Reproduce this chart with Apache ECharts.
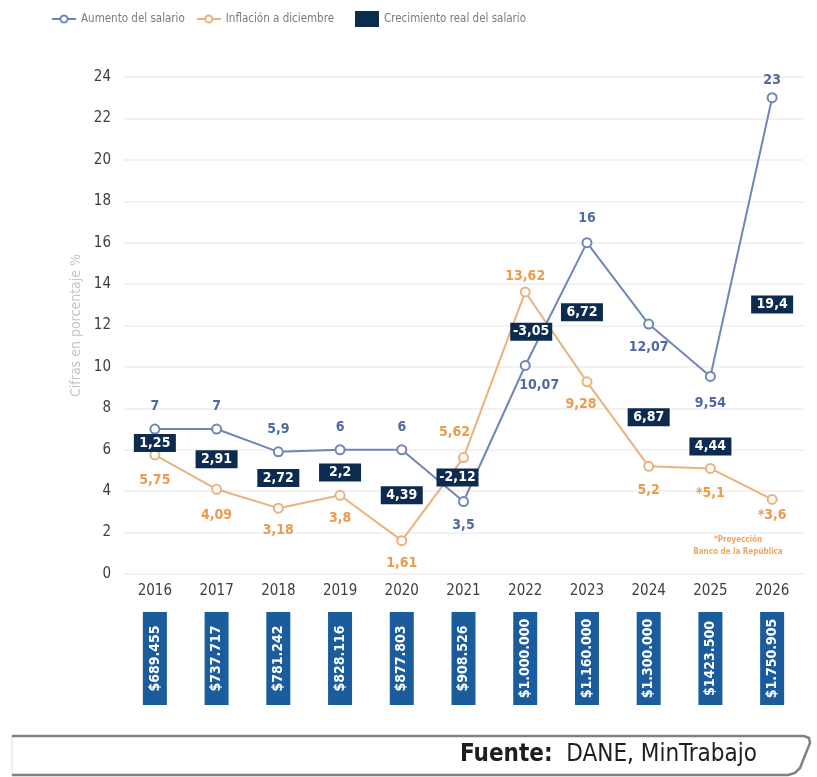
<!DOCTYPE html>
<html>
<head>
<meta charset="utf-8">
<script src="https://cdn.jsdelivr.net/npm/echarts@6/dist/echarts.min.js"></script>
<style>
html,body{margin:0;padding:0;background:#fff;}
#chart{width:817px;height:777px;}
</style>
</head>
<body>
<div id="chart"></div>
<script>
// ---- data ----
const years = ['2016','2017','2018','2019','2020','2021','2022','2023','2024','2025','2026'];
const salaryIncrease = [7, 7, 5.9, 6, 6, 3.5, 10.07, 16, 12.07, 9.54, 23];
const inflation = [5.75, 4.09, 3.18, 3.8, 1.61, 5.62, 13.62, 9.28, 5.2, 5.1, 3.6];
const realGrowth = [1.25, 2.91, 2.72, 2.2, 4.39, -2.12, -3.05, 6.72, 6.87, 4.44, 19.4];
const projectedInflation = [false, false, false, false, false, false, false, false, false, true, true];
const minimumWage = ['$689.455','$737.717','$781.242','$828.116','$877.803','$908.526','$1.000.000','$1.160.000','$1.300.000','$1423.500','$1.750.905'];
const yTickMin = 0, yTickMax = 24, yTickStep = 2;

// ---- layout (label placement only) ----
const salaryLabelLayout = [['top',10],['top',10],['top',10],['top',10],['top',10],['bottom',11],['bottom',7,[14,0]],['top',12],['bottom',11],['bottom',14],['top',5]];
const inflationLabelLayout = [['bottom',13],['bottom',14],['bottom',10],['bottom',11],['bottom',10],['top',13,[-9,0]],['top',3],['bottom',10,[-6,0]],['bottom',12],['bottom',12],['bottom',3]];
const growthBoxShift = [[0,1],[0,0],[0,-2],[0,0],[0,0],[-6,-2],[6,3],[-5,0],[0,22],[0,24],[0,6]];

const FONT = "'Liberation Sans Narrow','DejaVu Sans Condensed','Roboto',sans-serif";
const SAL_LINE = '#7086b4', SAL_TXT = '#4f6a9e';
const INF_LINE = '#eab27c', INF_TXT = '#ec9a4e';
const NAVY = '#0c2b4e', BLUE = '#1a5c9c';
const fmt = v => String(v).replace('.', ',');

const chart = echarts.init(document.getElementById('chart'));

const salaryData = salaryIncrease.map((v, i) => {
  const L = salaryLabelLayout[i];
  return { value: v, label: { position: L[0], distance: L[1], offset: L[2] || [0,0] } };
});
const inflationData = inflation.map((v, i) => {
  const L = inflationLabelLayout[i];
  return { value: v, label: { position: L[0], distance: L[1], offset: L[2] || [0,0] } };
});
const growthData = realGrowth.map((g, i) => {
  const s = growthBoxShift[i];
  return { value: [i, (salaryIncrease[i] + inflation[i]) / 2], growth: g, symbolOffset: s };
});
const wageData = minimumWage.map((w, i) => ({ value: [i, 0], wage: w }));

const legendText = { color: '#7a7a7a', fontSize: 11.5, fontFamily: FONT };

chart.setOption({
  animation: false,
  backgroundColor: '#fff',
  textStyle: { fontFamily: FONT },
  legend: [
    {
      left: 46, top: 8,
      itemWidth: 24, itemHeight: 9, itemGap: 11,
      textStyle: legendText,
      data: ['Aumento del salario', 'Inflación a diciembre']
    },
    {
      left: 350, top: 6,
      itemWidth: 24, itemHeight: 16,
      textStyle: legendText,
      data: [{ name: 'Crecimiento real del salario', icon: 'rect' }]
    }
  ],
  grid: [
    { left: 124, right: 14, top: 77, bottom: 203 },
    { left: 124, right: 14, top: 612, height: 93 }
  ],
  xAxis: [
    {
      type: 'category', data: years, gridIndex: 0,
      axisLine: { show: false }, axisTick: { show: false },
      axisLabel: { color: '#3e3e3e', fontSize: 15, margin: 10, fontFamily: FONT }
    },
    { type: 'category', data: years, gridIndex: 1, show: false }
  ],
  yAxis: [
    {
      type: 'value', gridIndex: 0, min: yTickMin, max: yTickMax, interval: yTickStep,
      name: 'Cifras en porcentaje %', nameLocation: 'middle', nameGap: 38,
      nameTextStyle: { color: '#c4c4c4', fontSize: 14, fontFamily: FONT },
      axisLine: { show: false }, axisTick: { show: false },
      axisLabel: { color: '#3e3e3e', fontSize: 15, margin: 13, fontFamily: FONT },
      splitLine: { lineStyle: { color: '#eeeeee', width: 1.5 } }
    },
    { type: 'value', gridIndex: 1, min: -1, max: 1, show: false }
  ],
  series: [
    {
      name: 'Aumento del salario', type: 'line', data: salaryData,
      symbol: 'emptyCircle', symbolSize: 9, z: 4,
      lineStyle: { color: SAL_LINE, width: 2 },
      itemStyle: { color: SAL_LINE, borderWidth: 1.5 },
      label: { show: true, color: SAL_TXT, fontSize: 14, fontWeight: 'bold', fontFamily: FONT,
        formatter: p => fmt(p.value) }
    },
    {
      name: 'Inflación a diciembre', type: 'line', data: inflationData,
      symbol: 'emptyCircle', symbolSize: 9, z: 3,
      lineStyle: { color: INF_LINE, width: 2 },
      itemStyle: { color: INF_LINE, borderWidth: 1.5 },
      label: { show: true, color: INF_TXT, fontSize: 14, fontWeight: 'bold', fontFamily: FONT,
        formatter: p => (projectedInflation[p.dataIndex] ? '*' : '') + fmt(p.value) }
    },
    {
      name: 'Crecimiento real del salario', type: 'scatter', data: growthData,
      symbol: 'rect', symbolSize: [42, 18], z: 6,
      itemStyle: { color: NAVY, opacity: 1 },
      label: { show: true, position: 'inside', color: '#fff', fontSize: 14, fontWeight: 'bold', fontFamily: FONT,
        formatter: p => fmt(p.data.growth) }
    },
    {
      name: 'Salario mínimo', type: 'scatter', xAxisIndex: 1, yAxisIndex: 1, data: wageData,
      symbol: 'rect', symbolSize: [24, 93],
      itemStyle: { color: BLUE, opacity: 1 },
      label: { show: true, position: 'inside', rotate: 90, color: '#fff', fontSize: 14, fontWeight: 'bold', fontFamily: FONT,
        formatter: p => p.data.wage }
    }
  ],
  graphic: [
    { type: 'text', x: 738, y: 540, style: { text: '*Proyección', fill: '#f0a65c', font: "bold 8px " + FONT, align: 'center', verticalAlign: 'middle' } },
    { type: 'text', x: 738, y: 552, style: { text: 'Banco de la República', fill: '#f0a65c', font: "bold 8px " + FONT, align: 'center', verticalAlign: 'middle' } },
    { type: 'line', shape: { x1: 12, y1: 736, x2: 12, y2: 776 }, style: { stroke: '#dddddd', lineWidth: 1 } },
    { type: 'polyline', shape: { points: [[12,736],[804,736],[809,738],[810,743],[800,768],[795,773],[788,775],[12,775]] },
      style: { stroke: '#808080', lineWidth: 2.5, fill: null } },
    { type: 'text', x: 757, y: 755,
      style: { text: '{b|Fuente:}  DANE, MinTrabajo', fill: '#1e1e1e', font: "24px " + FONT,
        align: 'right', verticalAlign: 'middle',
        rich: { b: { fontWeight: 'bold', fontSize: 24, fill: '#1e1e1e', fontFamily: FONT } } } }
  ]
});
</script>
</body>
</html>
